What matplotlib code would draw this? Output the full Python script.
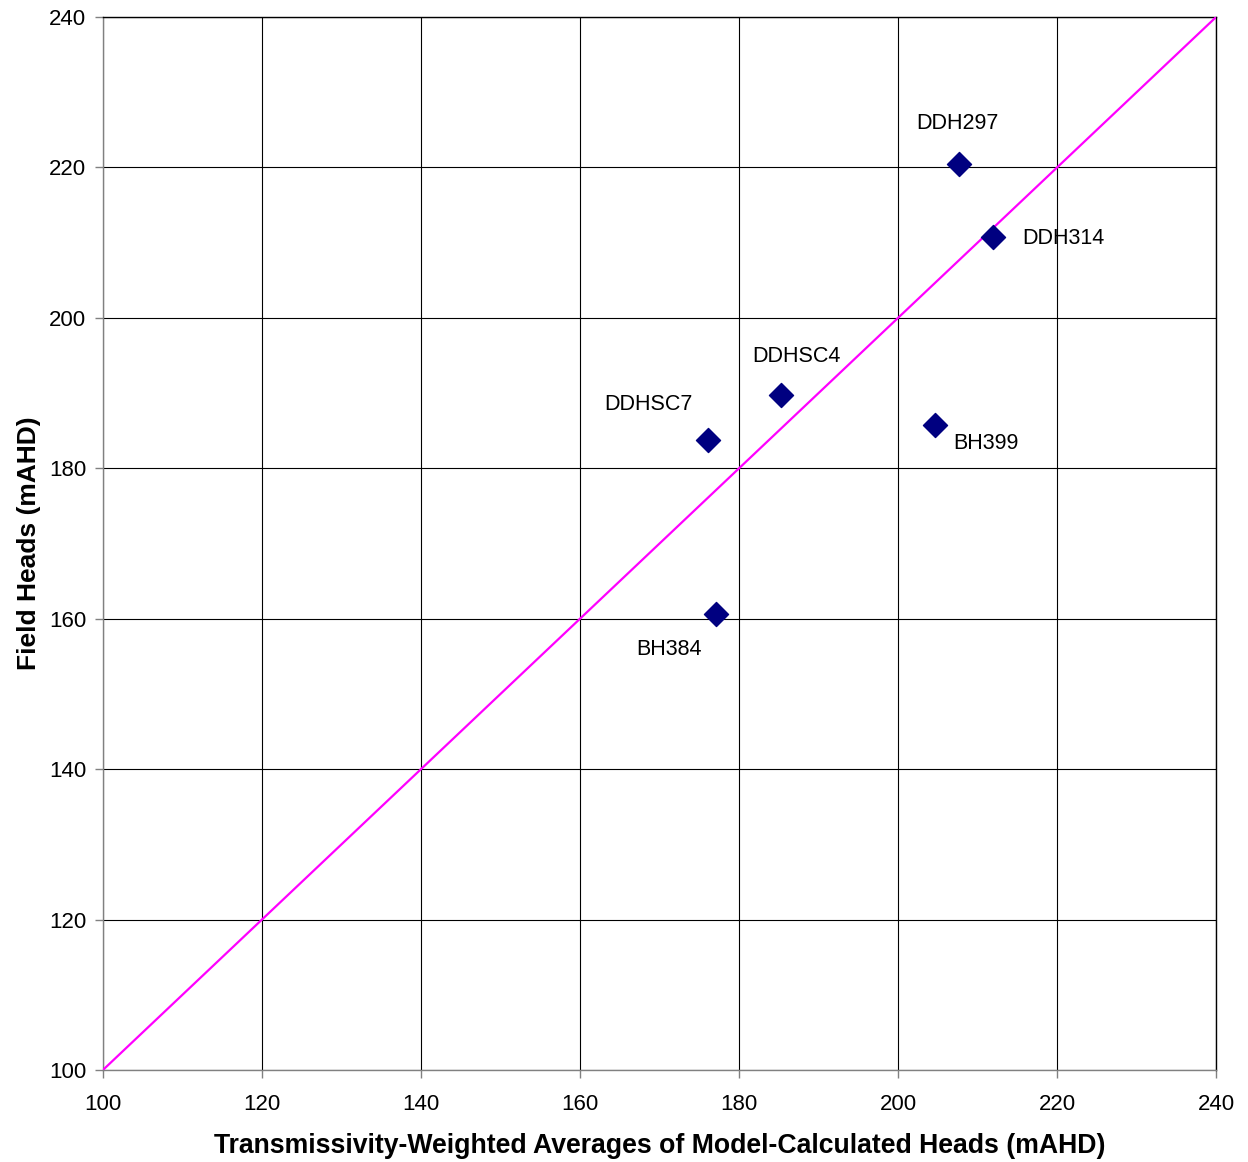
import matplotlib
matplotlib.use("Agg")
import matplotlib.pyplot as plt

plt.rcParams['font.family'] = ['Liberation Sans', 'DejaVu Sans']

# Bore names with model-calculated (x) and field-observed (y) heads, mAHD
bores = ["DDH297", "DDH314", "DDHSC4", "DDHSC7", "BH399", "BH384"]
model_heads = [207.7, 211.9, 185.3, 176.1, 204.7, 177.1]
field_heads = [220.5, 210.8, 189.7, 183.7, 185.7, 160.6]

# Label placement relative to each marker (pixels) and alignment
label_offsets = [(-2, 40), (30, -2), (15, 39), (-60, 36), (18, -18), (-47, -35)]
label_ha = ["center", "left", "center", "center", "left", "center"]

ticks = [100, 120, 140, 160, 180, 200, 220, 240]

fig = plt.figure(figsize=(12.48, 11.62), dpi=100)
ax = fig.add_axes([0.0825, 0.0792, 0.892, 0.9062])

ax.set_xlim(100, 240)
ax.set_ylim(100, 240)
ax.set_xticks(ticks)
ax.set_yticks(ticks)
ax.grid(True, color="black", linewidth=0.8)
ax.set_axisbelow(True)

# 1:1 line
ax.plot([100, 240], [100, 240], color="#FF00FF", linewidth=1.6, zorder=3)

ax.scatter(model_heads, field_heads, marker="D", s=150, color="#000080",
           edgecolors="#000080", zorder=4)

for name, x, y, off, ha in zip(bores, model_heads, field_heads, label_offsets, label_ha):
    ax.annotate(name, (x, y), xytext=off, textcoords="offset pixels",
                ha=ha, va="center", fontsize=15.5)

for s in ax.spines.values():
    s.set_color("#808080")
    s.set_linewidth(1.0)
ax.spines["top"].set_color("black")
ax.spines["right"].set_color("black")

ax.tick_params(axis="both", labelsize=16, length=6, width=1, color="#808080")
ax.tick_params(axis="x", pad=11)
ax.tick_params(axis="y", pad=6)

ax.set_xlabel("Transmissivity-Weighted Averages of Model-Calculated Heads (mAHD)",
              fontsize=19.2, fontweight="bold", labelpad=13)
ax.set_ylabel("Field Heads (mAHD)", fontsize=19, fontweight="bold", labelpad=6)

fig.savefig("out.png", dpi=100, facecolor="white")
